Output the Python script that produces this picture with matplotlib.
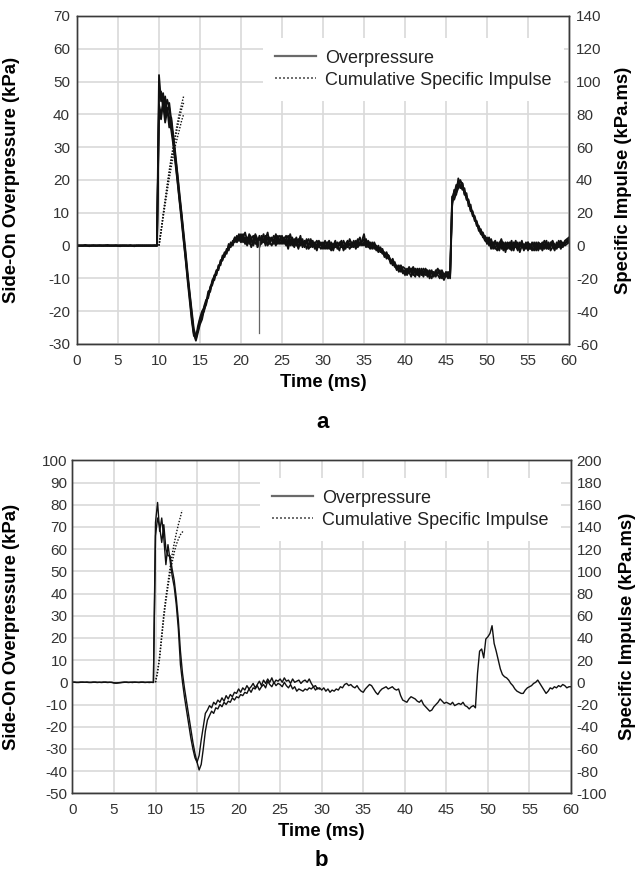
import numpy as np
import matplotlib
matplotlib.use("Agg")
import matplotlib.pyplot as plt
from matplotlib.lines import Line2D

plt.rcParams['font.family'] = ['Liberation Sans', 'DejaVu Sans']
plt.rcParams['axes.unicode_minus'] = False

STEP_MS = 0.25

# Panel a : overpressure traces (kPa)
a_p1 = [0.0,0.1,-0.1,0.0,0.2,0.0,-0.2,0.1,0.0,-0.1,0.1,0.0,0.0,-0.1,0.1,0.2,0.0,-0.1,0.0,0.1,
        0.0,-0.2,0.0,0.1,-0.1,0.0,0.1,-0.1,-0.2,0.0,0.1,0.0,-0.1,0.0,0.1,0.0,-0.1,0.1,0.0,0.0,
        52.0,44.0,46.5,41.0,44.5,42.0,37.0,32.5,27.0,21.5,15.0,9.5,3.0,-3.0,-9.5,-15.0,-21.0,-26.5,-28.5,-25.5,
        -23.5,-21.0,-20.0,-17.0,-15.5,-13.0,-12.0,-9.5,-8.5,-6.5,-5.5,-3.5,-3.0,-1.5,-1.0,0.5,0.5,2.0,2.0,3.0,
        2.0,3.5,1.0,2.5,0.5,2.0,3.0,0.5,1.5,-0.5,2.0,1.0,3.0,0.0,1.5,2.5,0.5,3.5,1.0,2.0,
        3.0,0.5,1.5,-1.0,2.0,0.0,1.0,2.5,-0.5,1.0,0.0,1.5,-1.0,0.5,1.0,-0.5,0.5,1.5,0.0,-1.0,
        0.5,-0.5,1.0,0.0,-1.5,0.5,-0.5,1.0,0.0,0.5,-1.0,0.5,1.5,0.0,1.0,-0.5,0.5,2.0,0.0,1.5,
        3.5,0.0,1.0,-0.5,0.5,-1.0,0.0,-1.5,-0.5,-2.0,-2.5,-3.5,-3.0,-4.5,-5.0,-6.0,-6.5,-7.0,-6.0,-7.5,
        -8.0,-7.0,-8.5,-7.5,-6.5,-8.0,-9.0,-7.5,-8.5,-7.0,-8.0,-9.5,-7.5,-8.5,-9.0,-8.0,-7.0,-9.0,-8.5,-9.5,
        -8.0,-9.0,-9.5,14.5,16.5,17.5,19.5,20.0,18.0,16.5,15.0,13.0,11.5,10.0,8.0,7.0,5.5,4.5,3.5,2.5,
        1.5,1.0,2.0,0.0,-1.0,1.0,-0.5,0.5,-1.5,0.0,1.0,-1.0,0.5,-0.5,1.5,-1.0,0.0,0.5,-1.5,0.5,
        0.0,-1.0,1.0,-0.5,0.5,-1.5,0.0,1.0,-1.0,0.5,0.0,-0.5,1.0,-1.0,0.0,0.5,-0.5,1.0,0.5,1.5,
        2.0]
a_p2 = [0.1,0.0,0.0,-0.1,0.1,0.1,0.0,-0.1,0.1,0.0,-0.1,0.1,0.1,0.0,0.0,-0.1,0.1,0.0,0.1,-0.1,
        0.1,0.0,-0.1,0.0,0.1,-0.1,0.0,0.0,0.1,-0.1,0.0,0.1,0.0,-0.1,0.0,0.1,0.1,0.0,-0.1,0.0,
        45.0,47.0,42.0,45.5,40.0,43.5,38.0,31.5,26.0,20.0,14.0,8.5,2.0,-4.0,-10.0,-16.0,-22.0,-27.0,-29.0,-26.5,
        -24.0,-22.5,-19.5,-18.0,-15.0,-14.0,-11.0,-10.5,-8.0,-7.0,-5.0,-4.5,-2.5,-2.0,0.0,-0.5,1.5,1.0,3.0,1.5,
        3.5,1.0,2.5,0.0,3.0,1.5,0.0,2.5,1.0,3.0,0.5,2.0,0.0,2.5,1.0,0.0,2.0,1.0,3.0,0.5,
        1.5,2.5,0.0,1.0,3.5,1.0,-0.5,1.5,2.0,0.0,2.0,-0.5,1.0,2.0,-0.5,1.0,0.0,-1.5,1.0,0.5,
        -1.0,1.5,0.0,-1.0,1.0,0.0,1.5,-1.0,1.0,-0.5,1.5,0.0,-0.5,2.0,0.5,1.0,-0.5,1.0,2.5,0.0,
        1.0,2.0,-0.5,1.0,0.0,0.5,-1.5,0.0,-2.0,-1.0,-3.0,-2.0,-4.0,-4.5,-6.0,-5.0,-7.0,-6.0,-8.0,-6.5,
        -7.0,-8.5,-6.5,-8.0,-9.0,-7.0,-8.0,-9.5,-7.0,-8.5,-9.0,-7.5,-8.5,-10.0,-8.0,-9.0,-8.5,-7.5,-10.0,-8.5,
        -9.5,-8.0,-9.0,13.0,15.5,18.5,18.0,19.5,19.0,15.5,16.0,12.0,12.5,9.0,8.5,6.0,6.0,4.0,4.0,2.0,
        2.5,0.0,1.0,-1.0,1.0,0.0,-1.5,1.5,0.0,-1.0,0.5,1.0,-1.0,1.0,0.0,-1.5,1.0,-0.5,0.5,-1.0,
        1.0,0.0,-1.5,1.0,-0.5,0.5,-1.0,0.0,1.5,-0.5,-1.0,1.0,0.0,-1.5,1.0,-0.5,1.5,0.0,1.0,1.0,
        1.5]
a_p3 = [-0.1,0.0,0.1,0.0,-0.1,0.0,0.1,0.0,-0.1,0.1,0.0,-0.1,0.0,0.1,-0.1,0.0,0.0,0.1,-0.1,0.0,
        -0.1,0.1,0.0,-0.1,0.0,0.1,-0.1,0.0,0.0,0.1,-0.1,0.0,0.1,0.0,-0.1,0.0,0.0,-0.1,0.1,0.0,
        41.0,38.5,44.0,39.5,42.0,36.0,39.0,33.5,28.0,22.0,16.0,10.0,4.0,-2.0,-8.5,-14.5,-20.0,-25.5,-27.5,-26.0,
        -22.5,-21.5,-18.5,-16.5,-16.0,-12.5,-11.5,-9.0,-9.0,-6.0,-6.0,-3.0,-3.5,-1.0,-1.5,1.0,0.0,2.5,1.0,2.0,
        1.0,2.5,4.0,1.5,2.0,-0.5,1.5,3.5,2.0,0.0,3.0,1.5,2.0,4.0,0.5,2.0,1.5,0.0,2.5,3.0,
        0.5,2.0,3.0,0.5,1.0,2.5,0.0,1.0,-1.0,2.0,1.0,0.0,2.0,-1.0,0.0,1.5,-1.0,0.5,-0.5,1.0,
        0.0,-1.0,0.5,1.5,-0.5,-1.0,0.5,0.0,-1.5,1.0,0.0,-1.0,1.0,0.5,-0.5,0.0,1.5,-0.5,1.0,0.5,
        0.0,1.5,0.0,-1.0,1.0,-0.5,-1.0,-1.0,-1.5,-2.5,-2.0,-4.0,-3.5,-5.5,-5.0,-6.5,-6.0,-8.0,-7.0,-7.5,
        -9.0,-7.5,-8.0,-9.5,-7.0,-8.5,-8.0,-7.0,-9.0,-8.0,-7.5,-8.5,-9.0,-7.5,-9.5,-7.5,-9.0,-10.0,-7.5,-9.0,
        -8.5,-10.0,-8.5,15.0,14.0,16.0,17.5,18.5,17.0,17.5,14.0,13.5,10.5,10.5,7.5,7.5,4.5,5.0,2.5,3.0,
        0.5,1.5,-1.0,1.0,-0.5,-1.5,1.0,-1.0,1.0,-2.0,0.5,-0.5,-1.5,0.5,-0.5,1.0,-2.0,0.0,-1.0,1.0,
        -1.5,0.5,-0.5,-1.5,1.0,-1.0,0.5,-1.5,0.0,-1.0,1.0,-1.5,-0.5,0.5,-1.0,0.5,-1.0,0.5,0.0,0.5,
        1.0]
a_p4 = [0.0,-0.1,0.0,0.1,0.0,-0.1,0.0,0.0,0.1,0.0,0.0,0.1,-0.1,0.0,0.1,0.0,-0.1,0.0,0.0,0.1,
        -0.1,0.0,0.1,0.0,0.0,-0.1,0.1,0.0,-0.1,0.0,0.0,-0.1,0.0,0.1,0.0,-0.1,0.0,0.0,0.1,-0.1,
        43.0,40.0,43.0,37.5,41.0,39.0,35.0,30.5,25.0,19.5,13.5,7.5,1.5,-4.5,-11.0,-17.0,-23.0,-27.5,-28.0,-24.5,
        -22.0,-20.0,-19.0,-17.5,-14.0,-13.5,-10.5,-9.5,-7.5,-7.5,-4.5,-4.0,-2.0,-2.5,0.5,0.0,1.0,2.5,1.5,3.5,
        1.5,3.0,0.5,1.0,3.5,2.5,0.5,3.0,-0.5,2.0,1.5,3.5,1.0,0.5,2.5,1.5,3.0,2.0,0.5,1.5,
        2.5,1.0,2.0,3.0,0.0,1.5,2.0,0.0,1.0,3.0,-0.5,1.0,1.5,0.0,2.0,0.0,1.0,-0.5,1.5,0.0,
        1.0,0.0,-1.0,0.5,0.5,-1.5,1.0,-0.5,0.5,1.5,-1.5,0.0,0.5,-1.0,0.0,1.5,-1.0,0.5,1.0,1.0,
        2.0,-0.5,1.5,0.5,-1.0,1.0,-0.5,-2.0,-1.0,-1.5,-3.5,-2.5,-3.0,-5.0,-4.0,-6.0,-7.5,-6.5,-7.0,-8.5,
        -7.5,-9.0,-7.5,-7.0,-8.5,-9.5,-7.0,-8.5,-8.0,-9.5,-7.0,-8.0,-10.0,-8.0,-8.5,-9.5,-8.0,-8.5,-9.0,-10.5,
        -9.0,-8.5,-10.0,12.0,17.0,15.5,20.5,17.5,19.0,16.0,14.5,14.0,11.0,9.5,9.0,6.5,5.0,3.5,3.0,1.5,
        1.0,2.5,-0.5,0.5,1.5,-0.5,0.5,2.0,-0.5,1.0,-1.0,0.0,1.5,-1.5,1.0,0.5,-0.5,1.5,-1.0,0.0,
        1.0,-1.0,0.5,0.0,-1.5,1.0,0.5,-0.5,0.0,1.5,-1.0,0.5,1.5,0.0,-0.5,1.5,0.0,-0.5,1.5,2.0,
        2.5]
# single-sample dropout in one gauge record
a_glitch_t = [22.2, 22.2]
a_glitch_p = [1.5, -26.6]

# Panel a : cumulative specific impulse (kPa.ms)
a_imp_t = [10.0, 10.25, 10.5, 10.75, 11.0, 11.25, 11.5, 11.75, 12.0, 12.25, 12.5, 12.75, 13.0]
a_imp1 = [0, 9, 19, 28, 37, 46, 54, 61, 68, 75, 81, 86, 91]
a_imp2 = [0, 9, 18, 27, 36, 44, 52, 59, 66, 72, 78, 83, 87]
a_imp3 = [0, 8, 17, 25, 33, 41, 48, 55, 61, 66, 71, 76, 80]

# Panel b : overpressure traces (kPa)
b_p1 = [0.0,0.1,0.0,-0.1,0.0,0.1,0.0,0.0,-0.1,0.0,0.1,0.0,-0.1,0.0,0.0,0.1,0.0,-0.1,0.0,0.0,
        -0.2,-0.3,-0.2,-0.1,0.0,0.1,0.0,-0.1,0.0,0.1,0.0,0.0,-0.1,0.0,0.1,0.0,0.0,-0.1,0.0,0.0,
        72.0,81.0,68.0,74.0,65.0,53.0,62.0,55.0,48.0,43.0,35.0,24.0,8.0,0.0,-7.0,-13.0,-19.0,-25.0,-30.0,-34.0,
        -36.0,-33.0,-26.0,-20.0,-14.0,-12.5,-10.5,-11.5,-9.0,-10.0,-8.0,-9.0,-7.0,-8.5,-6.0,-7.5,-5.5,-6.5,-4.5,-5.0,
        -3.0,-4.5,-2.5,-3.5,-1.5,-3.0,-2.0,-0.5,-2.5,-1.0,0.5,-1.5,1.0,-0.5,1.5,0.0,2.0,-0.5,1.0,0.5,
        1.5,0.0,2.0,0.5,1.0,-0.5,1.5,0.0,0.5,1.0,-0.5,0.5,1.0,0.0,1.5,-0.5,-2.0,-1.5,-3.0,-2.5,
        -3.5,-2.5,-4.0,-3.0,-4.5,-3.5,-4.0,-3.0,-3.5,-2.0,-2.5,-1.0,-0.5,-1.5,-1.0,-2.0,-2.5,-1.5,-3.0,-4.0,
        -4.5,-3.0,-2.0,-1.0,-1.5,-3.0,-4.5,-5.5,-4.0,-3.0,-2.5,-2.0,-3.0,-2.5,-2.0,-3.0,-3.5,-3.0,-6.0,-8.0,
        -8.5,-9.0,-7.5,-6.5,-7.0,-7.5,-8.5,-9.0,-8.0,-10.0,-11.0,-12.0,-13.0,-12.5,-11.0,-10.0,-9.0,-7.5,-8.5,-9.5,
        -9.0,-9.5,-10.0,-9.0,-10.5,-10.0,-9.5,-10.0,-9.0,-10.5,-11.0,-12.0,-11.0,-10.5,-11.5,4.0,14.0,15.0,11.0,19.5,
        20.5,22.0,25.5,17.5,14.0,10.0,6.0,3.5,2.5,2.0,1.0,-0.5,-1.5,-3.0,-4.0,-4.5,-5.0,-5.0,-3.5,-2.5,
        -2.0,-1.5,-0.5,0.0,1.0,-0.5,-2.0,-3.5,-5.0,-4.0,-2.5,-3.0,-2.0,-2.5,-1.5,-2.0,-1.0,-1.5,-2.5,-2.0,
        -2.0]
b_p2 = [0.1,0.0,-0.1,0.0,0.1,0.0,0.0,0.1,0.0,-0.1,0.0,0.1,0.0,0.0,-0.1,0.0,0.1,0.0,0.0,-0.1,
        -0.3,-0.4,-0.3,-0.2,-0.1,0.0,0.1,0.0,0.0,-0.1,0.1,0.0,0.0,0.1,0.0,-0.1,0.0,0.1,0.0,-0.1,
        66.0,74.0,70.0,63.0,71.0,60.0,57.0,57.0,51.0,46.0,38.0,28.0,14.0,4.0,-3.0,-9.0,-15.0,-21.0,-27.0,-32.0,
        -36.0,-39.5,-37.0,-30.0,-22.0,-17.0,-15.0,-13.0,-14.0,-11.5,-12.0,-10.0,-11.0,-9.0,-10.0,-8.5,-9.0,-7.0,-8.0,-6.5,
        -7.0,-5.5,-6.0,-4.5,-5.0,-3.0,-4.5,-2.5,-3.0,-1.5,-3.5,-2.0,-1.0,-2.5,0.5,-1.0,-2.0,0.0,-1.5,-0.5,
        -1.0,-2.0,0.0,-1.5,-2.5,-1.0,-3.0,-2.0,-4.0,-3.0,-3.5,-4.0,-3.0,-3.5,-2.5,-3.0,-2.0,-3.5,-2.5,-3.0]

# Panel b : cumulative specific impulse (kPa.ms)
b_imp1_t = [10.0, 10.25, 10.5, 10.75, 11.0, 11.25, 11.5, 11.75, 12.0, 12.25, 12.5, 12.75, 13.0, 13.2]
b_imp1 = [0, 10, 24, 43, 62, 77, 90, 103, 115, 125, 134, 142, 149, 155]
b_imp2_t = [10.0, 10.25, 10.5, 10.75, 11.0, 11.25, 11.5, 11.75, 12.0, 12.25, 12.5, 12.75, 13.0, 13.3]
b_imp2 = [0, 9, 22, 40, 58, 73, 86, 98, 108, 117, 124, 129, 133, 136]

x_ticks = list(range(0, 61, 5))
a_left_ticks = list(range(-30, 71, 10))
a_right_ticks = list(range(-60, 141, 20))
b_left_ticks = list(range(-50, 101, 10))
b_right_ticks = list(range(-100, 201, 20))

legend_labels = ["Overpressure", "Cumulative Specific Impulse"]

# ---------------- figure ----------------
W, H = 643, 869
fig = plt.figure(figsize=(W / 100, H / 100), dpi=100)

def px_axes(l, r, t, b):
    return fig.add_axes([l / W, 1 - b / H, (r - l) / W, (b - t) / H])

GRID = '#d9d9d9'
SPINE = '#3a3a3a'
TICKC = '#333333'
TRACE = '#111111'

def setup(ax, ax2, lticks, rticks, lpad, rpad):
    ax.set_xlim(0, 60)
    ax.set_ylim(lticks[0], lticks[-1])
    ax2.set_ylim(rticks[0], rticks[-1])
    ax.set_xticks(x_ticks)
    ax.set_yticks(lticks)
    ax2.set_yticks(rticks)
    ax.grid(True, color=GRID, lw=1.2)
    ax.set_axisbelow(True)
    ax.tick_params(axis='both', length=0, labelsize=11, labelcolor=TICKC)
    ax.tick_params(axis='y', pad=lpad)
    ax.tick_params(axis='x', pad=7)
    ax2.tick_params(axis='y', length=0, labelsize=11, labelcolor=TICKC, pad=rpad)
    for a in (ax, ax2):
        for s in a.spines.values():
            s.set_color(SPINE)
            s.set_linewidth(1.0)

def legend(ax2, x0, y0):
    handles = [Line2D([], [], color='#6a6a6a', lw=1.6),
               Line2D([], [], color='#555555', lw=1.2, linestyle=(0, (1.2, 1.2)))]
    leg = ax2.legend(handles, legend_labels, loc='upper left', bbox_to_anchor=(x0, y0),
                     borderaxespad=0, frameon=True, fancybox=False, fontsize=13,
                     handlelength=2.3, handletextpad=0.5, labelspacing=0.28,
                     borderpad=0.65)
    leg.get_frame().set_facecolor('white')
    leg.get_frame().set_edgecolor('none')
    leg.get_frame().set_alpha(1.0)
    for txt in leg.get_texts():
        txt.set_color('#222222')

# ---- panel a ----
axa = px_axes(77, 569, 16, 344)
axa2 = axa.twinx()
setup(axa, axa2, a_left_ticks, a_right_ticks, 5, 5)
for tr in (a_p1, a_p2, a_p3, a_p4):
    t = np.arange(len(tr)) * STEP_MS
    axa.plot(t, tr, color=TRACE, lw=1.3)
axa.plot(a_glitch_t, a_glitch_p, color='#666666', lw=0.9)
for imp in (a_imp1, a_imp2, a_imp3):
    axa2.plot(a_imp_t, imp, color=TRACE, lw=1.0, linestyle=(0, (1, 1.2)))
legend(axa2, (263 - 77) / 492, (344 - 38) / 328)
axa.set_xlabel("Time (ms)", fontsize=13.3, fontweight='bold')
axa.xaxis.set_label_coords(0.5, (344 - 383) / 328, transform=axa.transAxes)
axa.xaxis.label.set_va('center')
axa.set_ylabel("Side-On Overpressure (kPa)", fontsize=13.3, fontweight='bold')
axa.yaxis.set_label_coords((12 - 77) / 492, 0.5)
axa.yaxis.label.set_va('center')
axa2.set_ylabel("Specific Impulse (kPa.ms)", fontsize=13.3, fontweight='bold', rotation=90)
axa2.yaxis.set_label_coords((624 - 77) / 492, 0.5)
axa2.yaxis.label.set_va('center')
fig.text(0.5 * (77 + 569) / W, 1 - 422 / H, "a", fontsize=16, fontweight='bold',
         ha='center', va='center')

# ---- panel b ----
axb = px_axes(72.4, 571, 460.3, 793.3)
axb2 = axb.twinx()
setup(axb, axb2, b_left_ticks, b_right_ticks, 3.5, 4)
axb.plot(np.arange(len(b_p2)) * STEP_MS, b_p2, color=TRACE, lw=1.0)
axb.plot(np.arange(len(b_p1)) * STEP_MS, b_p1, color=TRACE, lw=1.0)
axb2.plot(b_imp1_t, b_imp1, color=TRACE, lw=1.0, linestyle=(0, (1, 1.2)))
axb2.plot(b_imp2_t, b_imp2, color=TRACE, lw=1.0, linestyle=(0, (1, 1.2)))
legend(axb2, (260 - 72.4) / 498.6, (793.3 - 478) / 333)
axb.set_xlabel("Time (ms)", fontsize=13.3, fontweight='bold')
axb.xaxis.set_label_coords(0.5, (793.3 - 831) / 333, transform=axb.transAxes)
axb.xaxis.label.set_va('center')
axb.set_ylabel("Side-On Overpressure (kPa)", fontsize=13.3, fontweight='bold')
axb.yaxis.set_label_coords((12 - 72.4) / 498.6, 0.5)
axb.yaxis.label.set_va('center')
axb2.set_ylabel("Specific Impulse (kPa.ms)", fontsize=13.3, fontweight='bold', rotation=90)
axb2.yaxis.set_label_coords((627 - 72.4) / 498.6, 0.5)
axb2.yaxis.label.set_va('center')
fig.text(0.5 * (72.4 + 571) / W, 1 - 860 / H, "b", fontsize=16, fontweight='bold',
         ha='center', va='center')

fig.savefig("out.png", dpi=100)
